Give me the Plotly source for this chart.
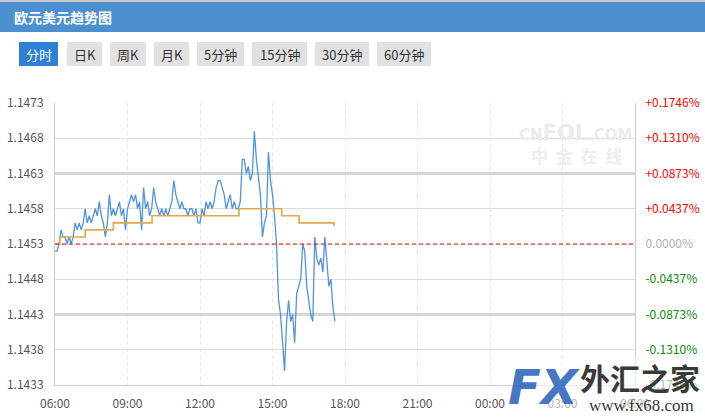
import plotly.graph_objects as go

# ---------------- data ----------------
title_text = "欧元美元趋势图"
buttons = ["分时", "日K", "周K", "月K", "5分钟", "15分钟", "30分钟", "60分钟"]
active_button = "分时"

prev_close = 1.1453
y_ticks = [1.1433, 1.1438, 1.1443, 1.1448, 1.1453, 1.1458, 1.1463, 1.1468, 1.1473]
y_tick_labels = ["1.1433", "1.1438", "1.1443", "1.1448", "1.1453", "1.1458", "1.1463", "1.1468", "1.1473"]
strong_grid = [1.1443, 1.1463]

x_tick_minutes = [0, 180, 360, 540, 720, 900, 1080, 1260, 1440]
x_tick_labels = ["06:00", "09:00", "12:00", "15:00", "18:00", "21:00", "00:00", "03:00", "06:00"]

# minutes after 06:00
minutes = list(range(0, 700, 5))
price = [
    1.1452, 1.1452, 1.1453, 1.1455, 1.1454, 1.1454, 1.1453, 1.1454, 1.1453, 1.1454,
    1.1456, 1.1455, 1.1456, 1.1455, 1.1456, 1.1458, 1.1456, 1.1457, 1.1456, 1.1457,
    1.1458, 1.1457, 1.1459, 1.1457, 1.1456, 1.1454, 1.1456, 1.1460, 1.1457, 1.1458,
    1.1457, 1.1458, 1.1459, 1.1457, 1.1458, 1.1455, 1.1458, 1.1459, 1.1460, 1.1459,
    1.1460, 1.1458, 1.1459, 1.1455, 1.1461, 1.1458, 1.1459, 1.1457, 1.1458, 1.1461,
    1.1459, 1.1458, 1.1457, 1.1458, 1.1457, 1.1458, 1.1457, 1.1458, 1.1459, 1.1462,
    1.1460, 1.1459, 1.1458, 1.1459, 1.1458, 1.1458, 1.1457, 1.1458, 1.1458, 1.1457,
    1.1458, 1.1456, 1.1456, 1.1458, 1.1457, 1.1459, 1.1458, 1.1459, 1.1458, 1.1459,
    1.1461, 1.1462, 1.1462, 1.1461, 1.1460, 1.1458, 1.1459, 1.1460, 1.1458, 1.1459,
    1.1458, 1.1458, 1.1459, 1.1465, 1.1465, 1.1463, 1.1464, 1.1462, 1.1463, 1.1469,
    1.1465, 1.1462, 1.1460, 1.1454, 1.1456, 1.1457, 1.1466, 1.1462, 1.1460, 1.1457,
    1.1453, 1.1445, 1.1443, 1.1439, 1.1435, 1.1442, 1.1445, 1.1442, 1.1443, 1.1439,
    1.1446, 1.1447, 1.1448, 1.1453, 1.1452, 1.1447, 1.1445, 1.1443, 1.1442, 1.1454,
    1.1451, 1.1450, 1.1451, 1.1449, 1.1454, 1.1450, 1.1447, 1.1448, 1.1444, 1.1442,
]

avg_minutes = [0, 12, 75, 145, 241, 457, 563, 606, 687, 693]
avg_price = [1.1453, 1.1454, 1.1455, 1.1456, 1.1457, 1.1458, 1.1457, 1.1456, 1.1456, 1.14555]

# ---------------- layout helpers ----------------
W, H = 705, 417
ML, MR, MT, MB = 55, 70, 103, 32
PW, PH = W - ML - MR, H - MT - MB


def px(x):
    return (x - ML) / PW


def py(y):
    return (H - MB - y) / PH


FONT = "Microsoft YaHei, Noto Sans CJK SC, sans-serif"


def pct_label(v):
    p = round((v - prev_close) / prev_close * 100, 4)
    if abs(p) < 1e-9:
        return '<span style="color:#b0b0b0">0.0000%</span>'
    color = "#ff0000" if p > 0 else "#0a8a0a"
    return f'<span style="color:{color}">{p:+.4f}%</span>'


fig = go.Figure()

fig.add_trace(go.Scatter(
    x=minutes, y=price, mode="lines", line=dict(color="#4f93de", width=1.3),
    hoverinfo="skip", showlegend=False,
))
fig.add_trace(go.Scatter(
    x=avg_minutes, y=avg_price, mode="lines", line=dict(color="#dfa94a", width=1.6, shape="hv"),
    hoverinfo="skip", showlegend=False,
))
# invisible trace bound to the right axis
fig.add_trace(go.Scatter(
    x=minutes, y=price, mode="lines", line=dict(color="rgba(0,0,0,0)", width=0),
    yaxis="y2", hoverinfo="skip", showlegend=False,
))
# emphasised grid lines via a third axis
fig.add_trace(go.Scatter(
    x=[0], y=[prev_close], mode="markers", marker=dict(opacity=0),
    yaxis="y3", hoverinfo="skip", showlegend=False,
))

yrange = [y_ticks[0], y_ticks[-1]]

shapes = []
annotations = []

# prev close dashed line
shapes.append(dict(type="line", xref="paper", yref="y", x0=0, x1=1, y0=prev_close, y1=prev_close,
                   line=dict(color="#e01010", width=1.2, dash="4px,3px"), layer="above"))

# title bar
shapes.append(dict(type="rect", xref="paper", yref="paper", x0=px(0), x1=px(W), y0=py(0), y1=py(2),
                   fillcolor="#c9c9c9", line=dict(width=0), layer="below"))
shapes.append(dict(type="rect", xref="paper", yref="paper", x0=px(0), x1=px(W), y0=py(2), y1=py(32),
                   fillcolor="#4d90d0", line=dict(width=0), layer="below"))
annotations.append(dict(text=f"<b>{title_text}</b>", xref="paper", yref="paper", x=px(12), y=py(17),
                        xanchor="left", yanchor="middle", showarrow=False,
                        font=dict(family=FONT, size=14, color="white")))

# buttons
btn_x = [(19, 58), (67, 102), (110, 146), (154, 189), (197, 244), (252, 307), (315, 369), (377, 431)]
for (x0, x1), lab in zip(btn_x, buttons):
    active = lab == active_button
    shapes.append(dict(type="rect", xref="paper", yref="paper", x0=px(x0), x1=px(x1), y0=py(66), y1=py(42),
                       fillcolor="#2f7fd5" if active else "#e1e1e1", line=dict(width=0), layer="below"))
    annotations.append(dict(text=lab, xref="paper", yref="paper", x=px((x0 + x1) / 2), y=py(54),
                            xanchor="center", yanchor="middle", showarrow=False,
                            font=dict(family=FONT, size=13, color="white" if active else "#333333")))

# CNFOL watermark
annotations.append(dict(text='<b><span style="font-size:15px">CN</span>FOL<span style="font-size:15px">.COM</span></b>',
                        xref="paper", yref="paper", x=px(576), y=py(133), xanchor="center", yanchor="middle",
                        showarrow=False, font=dict(family="DejaVu Sans, sans-serif", size=21, color="#ebebeb")))
annotations.append(dict(text="<b>中  金  在  线</b>", xref="paper", yref="paper", x=px(576), y=py(155),
                        xanchor="center", yanchor="middle", showarrow=False,
                        font=dict(family=FONT, size=17, color="#eeeeee")))

# FX68 watermark (semi-opaque backdrop, then logo text)
shapes.append(dict(type="rect", xref="paper", yref="paper", x0=px(512), x1=px(705), y0=py(417), y1=py(358),
                   fillcolor="rgba(255,255,255,0.55)", line=dict(width=0), layer="above"))
annotations.append(dict(text="<b><i>FX</i></b>", xref="paper", yref="paper", x=px(544), y=py(387),
                        xanchor="center", yanchor="middle", showarrow=False,
                        font=dict(family="DejaVu Sans, sans-serif", size=48, color="rgba(50,105,190,0.92)")))
annotations.append(dict(text="<b>外汇之家</b>", xref="paper", yref="paper", x=px(640), y=py(377),
                        xanchor="center", yanchor="middle", showarrow=False,
                        font=dict(family=FONT, size=30, color="rgba(45,45,45,0.95)")))
annotations.append(dict(text="www.fx68.com", xref="paper", yref="paper", x=px(641), y=py(405),
                        xanchor="center", yanchor="middle", showarrow=False,
                        font=dict(family="Liberation Serif, serif", size=17, color="rgba(40,40,40,0.95)")))

fig.update_layout(
    width=W, height=H,
    margin=dict(l=ML, r=MR, t=MT, b=MB, pad=0, autoexpand=False),
    paper_bgcolor="white", plot_bgcolor="white",
    font=dict(family=FONT, size=12, color="#555555"),
    showlegend=False,
    shapes=shapes, annotations=annotations,
    xaxis=dict(
        range=[x_tick_minutes[0], x_tick_minutes[-1]], tickmode="array",
        tickvals=x_tick_minutes, ticktext=x_tick_labels,
        showgrid=True, gridcolor="#e6e6e6", griddash="4px,3px", gridwidth=1,
        showline=True, linecolor="#cccccc", linewidth=1, zeroline=False, automargin=False,
        ticks="", ticklabelstandoff=8, tickfont=dict(size=12, color="#555555"),
    ),
    yaxis=dict(
        range=yrange, tickmode="array", tickvals=y_ticks, ticktext=y_tick_labels,
        showgrid=True, gridcolor="#dcdcdc", gridwidth=1, automargin=False,
        showline=True, linecolor="#cccccc", linewidth=1, zeroline=False,
        ticks="", ticklabelstandoff=8, tickfont=dict(size=12, color="#555555"),
    ),
    yaxis2=dict(
        range=yrange, overlaying="y", side="right", tickmode="array",
        tickvals=y_ticks, ticktext=[pct_label(v) for v in y_ticks], automargin=False,
        showgrid=False, showline=True, linecolor="#cccccc", linewidth=1, zeroline=False,
        ticks="", ticklabelstandoff=7, tickfont=dict(size=12),
    ),
    yaxis3=dict(
        range=yrange, overlaying="y", side="left", tickmode="array", tickvals=strong_grid,
        showticklabels=False, showgrid=True, gridcolor="#d6d6d6", gridwidth=2.5, automargin=False,
        showline=False, zeroline=False, ticks="",
    ),
)

fig.write_html("out.html", config={"displayModeBar": False},
               post_script="document.body.style.margin='0';document.body.style.overflow='hidden';")
